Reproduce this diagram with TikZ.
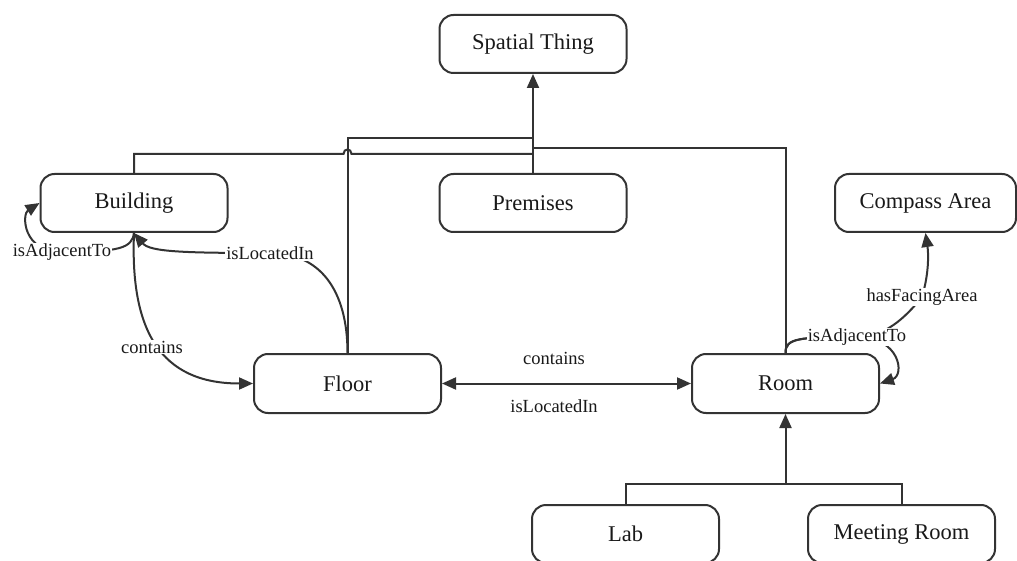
\documentclass[tikz,border=0pt]{standalone}
\usepackage{fontspec}
\setmainfont{Liberation Serif}
\usetikzlibrary{arrows.meta}
\definecolor{ink}{HTML}{333333}
\begin{document}
\begin{tikzpicture}[x=1pt,y=-1pt,
  concept/.style={draw=ink, line width=2pt, rounded corners=14pt,
    minimum width=187pt, minimum height=58pt, inner sep=0pt,
    font=\fontsize{22.5}{26}\selectfont, text=black!90},
  link/.style={draw=ink, line width=2pt},
  tip/.style={-{Triangle[length=14pt,width=12pt]}},
  tips/.style={{Triangle[length=14pt,width=12pt]}-{Triangle[length=14pt,width=12pt]}},
  lbl/.style={fill=white, inner sep=1pt, font=\fontsize{18.5}{22}\selectfont, text=black!90}
]
\useasboundingbox[fill=white] (0,0) rectangle (1017,561);

% concepts
\node[concept] (spatial) at (533,44) {Spatial Thing};
\node[concept] (bldg) at (134,203) {Building};
\node[concept] (prem) at (533,203) {Premises};
\node[concept, minimum width=181pt] (compass) at (925.5,203) {Compass Area};
\node[concept, minimum height=59pt] (floor) at (347.5,383.5) {Floor};
\node[concept, minimum height=59pt] (room) at (785.5,383.5) {Room};
\node[concept] (lab) at (625.5,534) {Lab};
\node[concept] (meet) at (901.5,534) {Meeting Room};

% subclass tree towards Spatial Thing
\coordinate (jb) at (533,154);
\coordinate (jf) at (533,138);
\coordinate (jr) at (533,148);
\draw[link] (bldg.north) |- (343.5,154)
  .. controls (343.5,148) and (351.5,148) .. (351.5,154) -- (jb);
\draw[link] (floor.north) |- (jf);
\draw[link] (room.north) |- (jr);
\draw[link, tip] (prem.north) -- (spatial.south);

% subclass tree towards Room
\coordinate (jl) at (785.5,484);
\draw[link] (lab.north) |- (jl) -| (meet.north);
\draw[link, tip] (jl) -- (room.south);

% Floor <-> Room
\draw[link, tips] (floor.east) -- (room.west)
  node[pos=0.45, lbl, yshift=25pt] {contains}
  node[pos=0.45, lbl, yshift=-23pt] {isLocatedIn};

% relations around Building
\draw[link, tip] (bldg.south) .. controls (130,330) and (160,383.5) .. (floor.west);
\node[lbl] at (152,347) {contains};
\draw[link, tip] (floor.north) .. controls (347.5,290) and (320,253) .. (270,253)
  node[lbl] {isLocatedIn}
  .. controls (185,253) and (150,252) .. (bldg.south);
\draw[link, tip] (bldg.south) .. controls (132,248) and (120,252) .. (62,252)
  node[lbl] {isAdjacentTo}
  .. controls (22,252) and (22,214) .. (bldg.west);

% relations around Room
\draw[link, tip] (room.north) .. controls (785,338) and (800,337) .. (857,337)
  .. controls (885,337) and (905,318) .. (922,297)
  node[lbl] {hasFacingArea}
  .. controls (930,270) and (928,250) .. (compass.south);
\draw[link, tip] (room.north) .. controls (785,338) and (800,337) .. (857,337)
  node[lbl] {isAdjacentTo}
  .. controls (900,337) and (905,375) .. (room.east);
\end{tikzpicture}
\end{document}
